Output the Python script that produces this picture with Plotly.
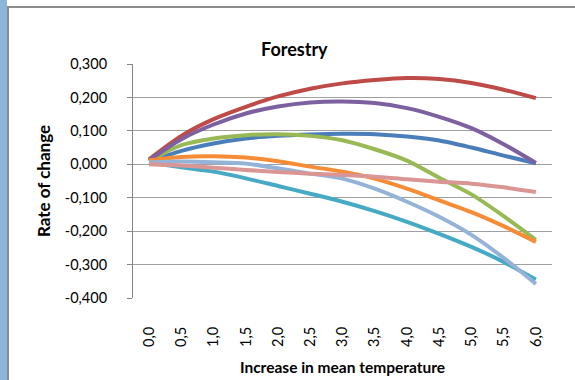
import plotly.graph_objects as go

# Temperature increase steps (x categories) and their printed labels
temps = [0.0, 0.5, 1.0, 1.5, 2.0, 2.5, 3.0, 3.5, 4.0, 4.5, 5.0, 5.5, 6.0]
temp_labels = ["0,0", "0,5", "1,0", "1,5", "2,0", "2,5", "3,0",
               "3,5", "4,0", "4,5", "5,0", "5,5", "6,0"]

# Rate of change per scenario
s_blue = [0.008, 0.040, 0.062, 0.077, 0.085, 0.089, 0.091, 0.090, 0.083, 0.071, 0.050, 0.026, 0.003]
s_red = [0.015, 0.085, 0.135, 0.172, 0.203, 0.226, 0.242, 0.252, 0.258, 0.255, 0.243, 0.223, 0.198]
s_green = [0.010, 0.057, 0.077, 0.087, 0.090, 0.085, 0.072, 0.045, 0.011, -0.040, -0.090, -0.155, -0.226]
s_purple = [0.012, 0.075, 0.119, 0.152, 0.173, 0.185, 0.188, 0.183, 0.168, 0.142, 0.108, 0.060, 0.004]
s_teal = [0.005, -0.009, -0.022, -0.042, -0.065, -0.088, -0.112, -0.140, -0.172, -0.208, -0.247, -0.292, -0.345]
s_orange = [0.012, 0.022, 0.024, 0.020, 0.009, -0.007, -0.022, -0.043, -0.073, -0.108, -0.143, -0.185, -0.232]
s_lightblue = [0.005, 0.008, 0.006, 0.002, -0.012, -0.028, -0.043, -0.073, -0.112, -0.157, -0.211, -0.280, -0.358]
s_pink = [0.000, -0.004, -0.010, -0.017, -0.023, -0.028, -0.032, -0.037, -0.045, -0.052, -0.058, -0.069, -0.083]

y_ticks = [0.3, 0.2, 0.1, 0.0, -0.1, -0.2, -0.3, -0.4]
y_tick_labels = ["0,300", "0,200", "0,100", "0,000", "-0,100", "-0,200", "-0,300", "-0,400"]

series = [
    (s_blue, "#4A7EBB"),
    (s_red, "#BE4B48"),
    (s_green, "#98B954"),
    (s_purple, "#7D60A0"),
    (s_teal, "#46AAC5"),
    (s_orange, "#F68C36"),
    (s_lightblue, "#95B3D7"),
    (s_pink, "#D99694"),
]

W, H = 575, 380
ML, MR, MT, MB = 133, 23, 64, 82
PW = W - ML - MR
PH = H - MT - MB

FONT = "Lato"

fig = go.Figure()
for vals, col in series:
    fig.add_trace(go.Scatter(
        x=temps, y=vals, mode="lines",
        line=dict(color=col, width=4, shape="spline", smoothing=0.8),
        showlegend=False, hoverinfo="skip",
    ))

def px_x(p):
    return (p - ML) / PW

def px_y(p):
    return (H - MB - p) / PH

shapes = [
    # window strip on the left edge
    dict(type="rect", xref="paper", yref="paper",
         x0=px_x(0), x1=px_x(7), y0=px_y(H), y1=px_y(0),
         fillcolor="#8DB5DB", line=dict(width=0), layer="below"),
    # frame lines of the chart area
    dict(type="line", xref="paper", yref="paper",
         x0=px_x(8), x1=px_x(W), y0=px_y(7), y1=px_y(7),
         line=dict(color="#8C8C8C", width=2)),
    dict(type="line", xref="paper", yref="paper",
         x0=px_x(8), x1=px_x(8), y0=px_y(6), y1=px_y(H),
         line=dict(color="#8C8C8C", width=2)),
]

fig.update_layout(
    width=W, height=H,
    margin=dict(l=ML, r=MR, t=MT, b=MB),
    paper_bgcolor="white", plot_bgcolor="white",
    font=dict(family=FONT, color="#000000"),
    shapes=shapes,
    annotations=[
        dict(text="<b>Forestry</b>", xref="paper", yref="paper",
             x=px_x(294), y=px_y(49), xanchor="center", yanchor="middle",
             showarrow=False, font=dict(size=18, family=FONT)),
    ],
    xaxis=dict(
        range=[-0.25, 6.25], automargin=False,
        tickmode="array", tickvals=temps, ticktext=temp_labels,
        tickangle=-90, tickfont=dict(size=14.5, family=FONT),
        ticks="", ticklabelstandoff=25,
        showgrid=False, zeroline=False,
        showline=False,
        title=dict(text="<b>Increase in mean temperature</b>",
                   font=dict(size=15.5, family=FONT), standoff=16),
    ),
    yaxis=dict(
        range=[-0.4, 0.3], automargin=False,
        tickmode="array", tickvals=y_ticks, ticktext=y_tick_labels,
        tickfont=dict(size=14.5, family=FONT),
        ticks="outside", ticklen=5, tickcolor="#868686",
        ticklabelstandoff=17,
        showgrid=True, gridcolor="#A0A0A0", gridwidth=1,
        zeroline=False,
        showline=True, linecolor="#868686", linewidth=1,
        title=dict(text="<b>Rate of change</b>",
                   font=dict(size=17, family=FONT), standoff=9),
    ),
)

fig.write_html("out.html")
